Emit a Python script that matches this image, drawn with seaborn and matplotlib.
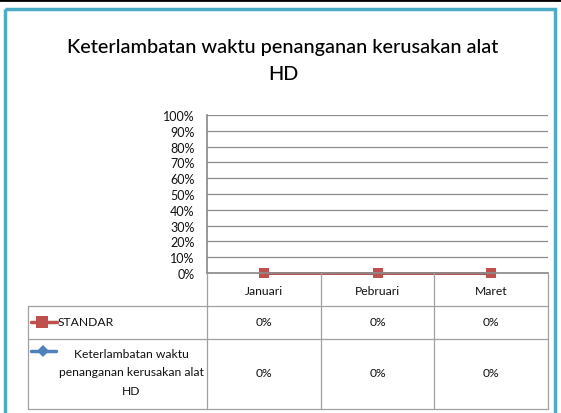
import matplotlib
matplotlib.use("Agg")
import matplotlib.pyplot as plt
import seaborn as sns
from matplotlib import font_manager
from matplotlib.transforms import Affine2D, blended_transform_factory
from matplotlib.ticker import PercentFormatter, MultipleLocator
from matplotlib.lines import Line2D
from matplotlib.patches import Rectangle

# ---- data ----
months = ["Januari", "Pebruari", "Maret"]
standar = [0.0, 0.0, 0.0]
keterlambatan = [0.0, 0.0, 0.0]
series_names = ["STANDAR", "Keterlambatan waktu\npenanganan kerusakan alat\nHD"]
title_text = "Keterlambatan waktu penanganan kerusakan alat\nHD"

sns.set_theme(style="white")
names = {f.name for f in font_manager.fontManager.ttflist}
fam = "Liberation Sans Narrow" if "Liberation Sans Narrow" in names else "Lato"
plt.rcParams["font.family"] = [fam, "DejaVu Sans"]

W, H = 561, 414
fig = plt.figure(figsize=(W / 100, H / 100), dpi=100)
fig.patch.set_facecolor("white")
px = Affine2D().scale(1 / W, -1 / H).translate(0, 1) + fig.transFigure

# frame decorations
fig.add_artist(Line2D([0, W], [1, 1], transform=px, color="black", lw=2))
fig.add_artist(Rectangle((5, 10), 550, 420, transform=px, fill=False,
                         edgecolor="#4BACC6", lw=2.5))

# title
tc = "#111111"
fig.text(283, 61, title_text, transform=px, ha="center", va="center",
         fontsize=14.3, linespacing=1.75, color="black", fontweight="medium")

# plot area
L, R, T, B = 207, 548, 116, 274
ax = fig.add_axes([L / W, (H - B) / H, (R - L) / W, (B - T) / H])
ax.set_facecolor("white")
sns.lineplot(x=months, y=keterlambatan, ax=ax, color="#4F81BD", marker="D",
             markersize=5, lw=2, markeredgewidth=0, sort=False)
sns.lineplot(x=months, y=standar, ax=ax, color="#C0504D", marker="s",
             markersize=7.5, lw=2, markeredgewidth=0, sort=False)
ax.set_xlim(-0.5, len(months) - 0.5)
ax.set_ylim(0, 1)
ax.yaxis.set_major_locator(MultipleLocator(0.1))
ax.yaxis.set_major_formatter(PercentFormatter(1.0, decimals=0))
ax.set_xticks([])
ax.grid(axis="y", color="#8c8c8c", lw=0.9)
ax.tick_params(axis="y", length=0, pad=9, labelsize=9, labelcolor=tc)
for s in ["top", "right"]:
    ax.spines[s].set_visible(False)
ax.spines["left"].set_color("#8c8c8c")
ax.spines["bottom"].set_color("#8c8c8c")
ax.set_ylabel("")
for line in ax.lines:
    line.set_clip_on(False)

# data table under the axis
tx = blended_transform_factory(ax.transData, px)
gc = "#a0a0a0"
rows_y = [B, 307, 340, 410]
xs = [i - 0.5 for i in range(len(months) + 1)]
for x in xs:
    fig.add_artist(Line2D([x, x], [B, rows_y[-1]], transform=tx, color=gc, lw=0.9))
fig.add_artist(Line2D([28, 28], [rows_y[1], rows_y[-1]], transform=px, color=gc, lw=0.9))
for y in rows_y[1:]:
    fig.add_artist(Line2D([28, R], [y, y], transform=px, color=gc, lw=0.9))

fs = 8.7
for i, m in enumerate(months):
    fig.text(i, 292, m, transform=tx, ha="center",
             va="center", fontsize=fs, color=tc)
for yc, vals in zip([323, 374], [standar, keterlambatan]):
    for i, v in enumerate(vals):
        fig.text(i, yc, f"{v:.0%}", transform=tx, ha="center", va="center",
                 fontsize=fs, color=tc)

# legend keys in table
fig.add_artist(Line2D([31, 57], [323, 323], transform=px, color="#C0504D", lw=2.5))
fig.add_artist(Line2D([42.5], [323], transform=px, color="#C0504D", marker="s",
                      markersize=8, markeredgewidth=0))
fig.text(58, 323, series_names[0], transform=px, ha="left", va="center",
         fontsize=fs, color=tc)
fig.add_artist(Line2D([31, 56], [352, 352], transform=px, color="#4F81BD", lw=2.5))
fig.add_artist(Line2D([43], [352], transform=px, color="#4F81BD", marker="D",
                      markersize=6.5, markeredgewidth=0))
fig.text(131, 373, series_names[1], transform=px, ha="center", va="center",
         fontsize=fs, linespacing=1.85, color=tc)

fig.savefig("out.png", dpi=100, facecolor="white")
